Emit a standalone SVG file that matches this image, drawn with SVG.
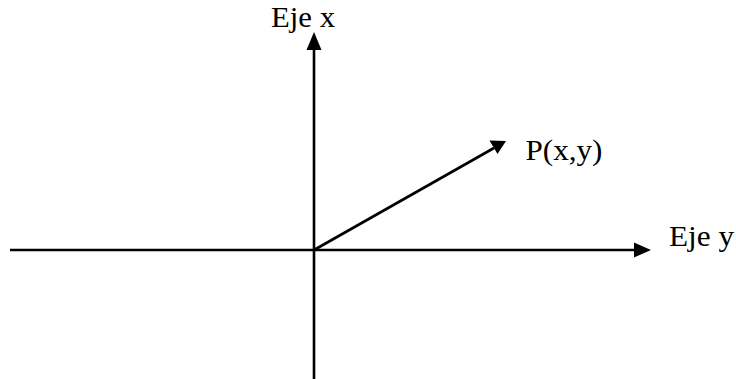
<svg xmlns="http://www.w3.org/2000/svg" width="736" height="379" viewBox="0 0 736 379">
<defs>
<style>
.ln{stroke:#000;stroke-width:2.6;fill:none}
.t{font-family:"Liberation Serif","Times New Roman",serif;font-size:30px;fill:#000}
</style>
</defs>
<rect width="736" height="379" fill="#fff"/>
<g id="connectors">
<line class="ln" x1="10" y1="250" x2="638" y2="250"/>
<path d="M634,242.5 L651,250 L634,257.5 z" fill="#000"/>
<line class="ln" x1="314" y1="379" x2="314" y2="46"/>
<path d="M306.5,50 L314,32 L321.5,50 z" fill="#000"/>
<line class="ln" x1="314" y1="250" x2="494" y2="148"/>
<path d="M489.5,140.5 L506,141 L497.5,154 z" fill="#000"/>
</g>
<g id="ejex"><text class="t" x="271" y="27" textLength="64" lengthAdjust="spacingAndGlyphs">Eje x</text></g>
<g id="ejey"><text class="t" x="669" y="245.5" textLength="65" lengthAdjust="spacingAndGlyphs">Eje y</text></g>
<g id="p"><text class="t" x="525.5" y="159.5" textLength="77" lengthAdjust="spacingAndGlyphs">P(x,y)</text></g>
</svg>
